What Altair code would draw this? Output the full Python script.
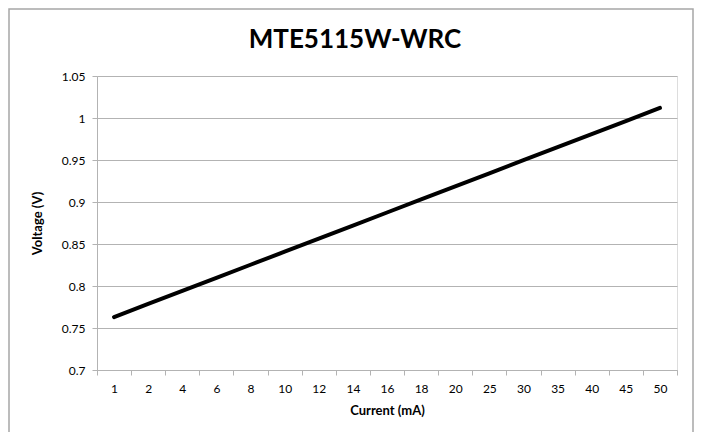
import altair as alt
import pandas as pd

currents = ["1", "2", "4", "6", "8", "10", "12", "14", "16", "18", "20", "25", "30", "35", "40", "45", "50"]
voltages = [0.763, 0.7786, 0.7941, 0.8097, 0.8253, 0.8408, 0.8564, 0.8719, 0.8875, 0.9031, 0.9186, 0.9342, 0.9498, 0.9653, 0.9809, 0.9964, 1.012]
y_ticks = [0.7, 0.75, 0.8, 0.85, 0.9, 0.95, 1.0, 1.05]

df = pd.DataFrame({"Current": currents, "Voltage": voltages})

FONT = "Lato"
GRID = "#b3b3b3"

line = alt.Chart(df).mark_line(color="black", strokeWidth=4, strokeCap="round").encode(
    x=alt.X("Current:O", sort=None, bandPosition=0.5,
            scale=alt.Scale(type="band", paddingInner=0, paddingOuter=0),
            axis=alt.Axis(title="Current (mA)", labelAngle=0, tickBand="extent",
                          domainColor=GRID, tickColor=GRID, tickSize=5, labelPadding=8,
                          labelFontSize=12, labelFont=FONT, labelColor="#000000",
                          titleFont=FONT, titleFontSize=13, titleFontWeight="bold",
                          titlePadding=10, titleColor="#000000", grid=False)),
    y=alt.Y("Voltage:Q", scale=alt.Scale(domain=[0.7, 1.05], nice=False, zero=False),
            axis=alt.Axis(title="Voltage (V)", values=y_ticks, format="~g",
                          domainColor=GRID, tickColor=GRID, tickSize=5, labelPadding=7,
                          labelFontSize=12, labelFont=FONT, labelColor="#000000",
                          titleFont=FONT, titleFontSize=13, titleFontWeight="bold",
                          titlePadding=17, titleColor="#000000",
                          grid=True, gridColor=GRID, gridWidth=1)),
)

border = alt.Chart(pd.DataFrame({"a": [0]})).mark_rect(
    fill=None, stroke="#a6a6a6", strokeWidth=1.5, clip=False
).encode(
    x=alt.value(-88), x2=alt.value(596), y=alt.value(-67), y2=alt.value(363)
)

chart = alt.layer(line, border).properties(
    width=580, height=294,
    padding={"left": 89, "top": 68, "right": 20, "bottom": 62},
    autosize=alt.AutoSizeParams(type="none"),
    title=alt.TitleParams("MTE5115W-WRC", font=FONT, fontSize=26, fontWeight="bold",
                          color="#000000", anchor="middle", frame="group",
                          baseline="alphabetic", offset=-66, dx=-32),
).configure_view(stroke=None).configure(background="white")

chart.save("out.html", embed_options={"renderer": "svg", "actions": False})
